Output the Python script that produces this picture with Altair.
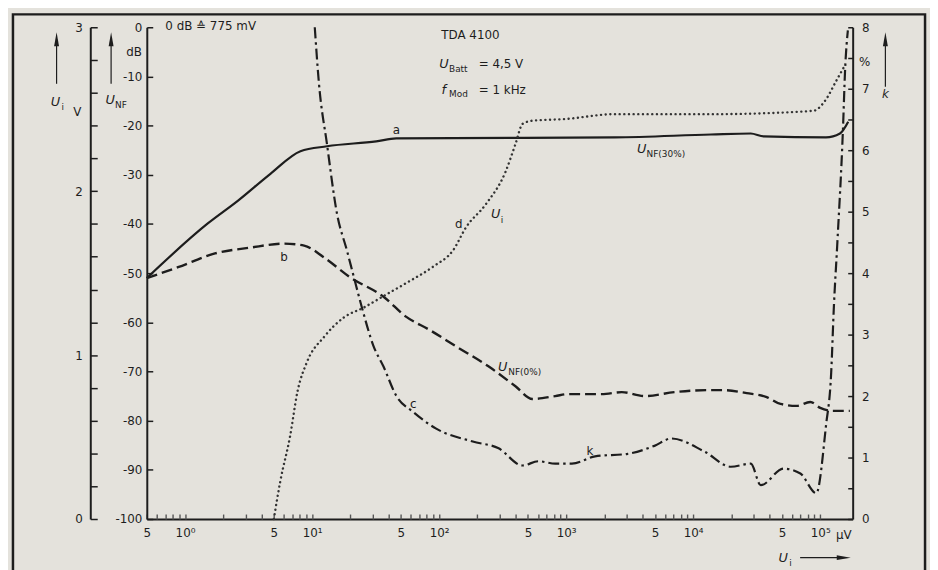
import altair as alt
import pandas as pd

# ---------------- data ----------------
# curve a : U_NF(30%) in dB
a_x = [0.5, 1.51, 2.6, 4.7, 8.1, 13.1, 32, 46, 2415, 13800, 28400, 35900, 111000, 143000, 166000]
a_y = [-51, -39.9, -35.3, -29.8, -25.2, -24.2, -23.2, -22.6, -22.4, -21.8, -21.6, -22.2, -22.4, -21.6, -19.2]

# curve b : U_NF(0%) in dB
b_x = [0.5, 0.88, 1.72, 3.28, 6.04, 8.66, 12.4, 19.8, 36.5, 55.2, 83.5, 136, 246, 399, 542, 820,
       1036, 1910, 2740, 4140, 7110, 12900, 17500, 26400, 37900, 48700, 64900, 83500, 100000, 126000, 171000]
b_y = [-51, -48.8, -46.0, -44.8, -44.0, -44.4, -46.8, -50.8, -54.8, -58.9, -61.5, -64.9, -69.0, -73.0, -75.6, -75.0,
       -74.6, -74.6, -74.2, -75.0, -74.2, -73.8, -73.8, -74.4, -75.2, -76.6, -77.0, -76.2, -77.4, -78.0, -78.0]

# curve c : distortion k in %
c_x = [10.5, 11.3, 13.1, 15.7, 18.8, 21.3, 24.6, 30.5, 36.5, 46.1, 62.6, 94.8, 184, 294, 453, 604, 820, 1110,
       1690, 3050, 4950, 6730, 12200, 19800, 28400, 34000, 51400, 69800, 93100, 111000, 122000, 128000, 136000,
       151000, 157000, 165000]
c_y = [8.0, 7.11, 6.10, 4.97, 4.37, 3.94, 3.45, 2.81, 2.48, 2.00, 1.74, 1.47, 1.26, 1.15, 0.87, 0.94, 0.90, 0.90,
       1.02, 1.06, 1.19, 1.31, 1.10, 0.85, 0.90, 0.55, 0.82, 0.74, 0.42, 1.52, 2.39, 3.45, 4.45,
       6.35, 7.32, 7.95]

# curve d : U_i in V
d_x = [5, 5.62, 6.73, 7.64, 9.14, 12.4, 17.8, 25.5, 36.5, 55.2, 89.8, 129, 163, 233, 334, 400, 453, 542,
       981, 2415, 14600, 88100, 111000, 133000, 157000]
d_y = [0, 0.23, 0.51, 0.77, 0.96, 1.11, 1.23, 1.29, 1.36, 1.44, 1.54, 1.64, 1.78, 1.92, 2.12, 2.29, 2.41, 2.43,
       2.44, 2.47, 2.47, 2.49, 2.56, 2.67, 2.77]

# axis tick labels
x_major = [0.5, 1, 5, 10, 50, 100, 500, 1000, 5000, 10000, 50000, 100000]
x_major_lbl = ["5", "10⁰", "5", "10¹", "5", "10²", "5", "10³", "5", "10⁴", "5", "10⁵"]
db_ticks = list(range(-100, 1, 10))
v_labels = [0, 1, 2, 3]
v_ticks = [round(i * 0.2, 1) for i in range(16)]
k_labels = list(range(0, 9))
k_ticks = [i * 0.5 for i in range(17)]

# in-plot annotations (x in µV, y in dB)
ann_l_text = ["0 dB ≙ 775 mV", "TDA 4100", "= 4,5 V", "= 1 kHz"]
ann_l_x = [0.70, 104, 205, 205]
ann_l_y = [0.3, -1.6, -7.5, -12.7]
ann_c_text = ["a", "b", "c", "d", "k"]
ann_c_x = [46, 6.0, 62.6, 143, 1540]
ann_c_y = [-20.8, -46.8, -76.6, -40.1, -86.1]
ann_i_text = ["U", "f", "U", "U", "U"]
ann_i_x = [109, 109, 279, 3925, 316]
ann_i_y = [-7.5, -12.7, -37.9, -24.8, -69.0]
ann_s_text = ["Batt", "Mod", "i", "NF(30%)", "NF(0%)"]
ann_s_x = [119.7, 119.7, 305, 4295, 350]
ann_s_y = [-8.4, -13.6, -39.3, -25.7, -70.1]

# ---------------- chart ----------------
W, H = 712, 496
XDOM = [0.5, 1.8e5]
INK = "#1d1d1d"
FONT = "DejaVu Sans"

def X(axis=None):
    return alt.X("x:Q", scale=alt.Scale(type="log", domain=XDOM, nice=False), axis=axis)

def Y(dom, axis=None):
    return alt.Y("y:Q", scale=alt.Scale(domain=dom, nice=False, zero=False), axis=axis)

df_a = pd.DataFrame({"x": a_x, "y": a_y})
df_b = pd.DataFrame({"x": b_x, "y": b_y})
df_c = pd.DataFrame({"x": c_x, "y": c_y})
df_d = pd.DataFrame({"x": d_x, "y": d_y})
one = pd.DataFrame({"k": [0]})

xexpr = "".join(f"datum.value == {v} ? '{l}' : " for v, l in zip(x_major, x_major_lbl)) + "''"

lab = dict(labelFont=FONT, labelFontSize=12, labelColor=INK, title=None, grid=False,
           labelFlush=False, labelOverlap=False, labelBound=False)

x_label_axis = alt.Axis(orient="bottom", values=x_major, labelExpr=xexpr, ticks=False, tickSize=0,
                        domain=True, domainColor=INK, domainWidth=2, labelPadding=9, **lab)
db_label_axis = alt.Axis(orient="left", values=db_ticks, ticks=False, tickSize=0, domain=True,
                         domainColor=INK, domainWidth=2, labelPadding=5,
                         labelExpr="datum.value == 0 ? '0' : '-' + abs(datum.value)", **lab)
v_label_axis = alt.Axis(orient="left", offset=57, values=v_labels, format="d", ticks=False, tickSize=0,
                        domain=True, domainColor=INK, domainWidth=2, labelPadding=8, **lab)
k_label_axis = alt.Axis(orient="right", values=k_labels, format="d", ticks=False, tickSize=0,
                        domain=True, domainColor=INK, domainWidth=2, labelPadding=9, **lab)

tick = dict(labels=False, domain=False, ticks=True, title=None, grid=False)
x_tick_axis = alt.Axis(orient="top", offset=-H, values=[m * 10 ** n for n in range(-1, 6) for m in range(1, 10)
                                                        if XDOM[0] <= m * 10 ** n <= XDOM[1]],
                       tickSize=5, tickWidth=1.4, tickColor="#555555", **tick)
db_tick_axis = alt.Axis(orient="right", offset=-W, values=db_ticks, tickSize=6, tickWidth=1.5, tickColor=INK, **tick)
v_tick_axis = alt.Axis(orient="right", offset=-(W + 57), values=v_ticks, tickSize=7, tickWidth=1.5, tickColor=INK, **tick)
k_tick_axis = alt.Axis(orient="left", offset=-W, values=k_ticks, tickSize=5, tickWidth=1.5, tickColor=INK, **tick)

layers = []
# curves
layers.append(alt.Chart(df_a).mark_line(color=INK, strokeWidth=2.2, interpolate="monotone")
              .encode(x=X(x_label_axis), y=Y([-100, 0], db_label_axis)))
layers.append(alt.Chart(df_b).mark_line(color=INK, strokeWidth=2.4, strokeDash=[11, 5], interpolate="monotone")
              .encode(x=X(), y=Y([-100, 0])))
layers.append(alt.Chart(df_c).mark_line(color=INK, strokeWidth=2.2, strokeDash=[11, 4, 2.5, 4], interpolate="monotone")
              .encode(x=X(), y=Y([0, 8], k_label_axis)))
layers.append(alt.Chart(df_d).mark_line(color="#333333", strokeWidth=2.4, strokeDash=[0.1, 4.6], strokeCap="round",
                                        interpolate="monotone")
              .encode(x=X(), y=Y([0, 3], v_label_axis)))
# tick-only axes (invisible carriers)
layers.append(alt.Chart(df_a).mark_point(opacity=0).encode(x=X(x_tick_axis), y=Y([-100, 0], db_tick_axis)))
layers.append(alt.Chart(df_d).mark_point(opacity=0).encode(x=X(), y=Y([0, 3], v_tick_axis)))
layers.append(alt.Chart(df_c).mark_point(opacity=0).encode(x=X(), y=Y([0, 8], k_tick_axis)))

# annotations in data coordinates
def ann(texts, xs, ys, size=12, italic=False, align="center"):
    df = pd.DataFrame({"t": texts, "x": xs, "y": ys})
    return alt.Chart(df).mark_text(font=FONT, fontSize=size, fontStyle="italic" if italic else "normal",
                                   align=align, baseline="middle", color=INK).encode(
        x=X(), y=Y([-100, 0]), text="t:N")

layers.append(ann(ann_l_text, ann_l_x, ann_l_y, align="left"))
layers.append(ann(ann_c_text, ann_c_x, ann_c_y))
layers.append(ann(ann_i_text, ann_i_x, ann_i_y, size=13, italic=True))
layers.append(ann(ann_s_text, ann_s_x, ann_s_y, size=9, align="left"))

# decorations: frame, axis titles and arrows (pixel positions relative to plot area)
layers.append(alt.Chart(one).mark_rect(fill="transparent", stroke=INK, strokeWidth=2.5)
              .encode(x=alt.value(-135), x2=alt.value(785), y=alt.value(-13), y2=alt.value(580)))

def txt(t, x, y, size=12, italic=False, align="center"):
    return alt.Chart(one).mark_text(text=t, font=FONT, fontSize=size, fontStyle="italic" if italic else "normal",
                                    align=align, baseline="middle", color=INK).encode(x=alt.value(x), y=alt.value(y))

def vrule(x, y1, y2):
    return alt.Chart(one).mark_rule(color=INK, strokeWidth=1.2).encode(x=alt.value(x), y=alt.value(y1), y2=alt.value(y2))

def head(x, y, shape):
    return alt.Chart(one).mark_point(shape=shape, filled=True, size=200, color=INK, opacity=1).encode(
        x=alt.value(x), y=alt.value(y))

UP = "M-0.35,1L0,-1L0.35,1Z"
RIGHT = "M-1,-0.35L1,0L-1,0.35Z"

layers += [
    vrule(-91, 12, 57), head(-91, 12, UP), txt("U", -92, 75, 13, True), txt("i", -86, 80, 9, False, "left"),
    txt("V", -70, 85),
    vrule(-36, 12, 57), head(-36, 12, UP), txt("U", -37, 73, 13, True), txt("NF", -32, 78, 9, False, "left"),
    txt("dB", -5, 25, 12, False, "right"),
    txt("%", 724, 35), vrule(745, 12, 60), head(745, 12, UP), txt("k", 745, 67, 12, True),
    txt("µV", 703, 512),
    txt("U", 642, 535, 13, True), txt("i", 648, 540, 9, False, "left"),
    alt.Chart(one).mark_rule(color=INK, strokeWidth=1.2).encode(x=alt.value(659), x2=alt.value(700), y=alt.value(535)),
    head(703, 535, RIGHT),
]

chart = (alt.layer(*layers)
         .resolve_scale(x="independent", y="independent")
         .resolve_axis(x="independent", y="independent")
         .properties(width=W, height=H,
                     padding={"left": 140, "top": 17, "right": 78, "bottom": 49},
                     autosize=alt.AutoSizeParams(type="none"),
                     background="#e4e2dc")
         .configure_view(stroke=None))

chart.save("out.html", embed_options={"renderer": "svg", "actions": False})
